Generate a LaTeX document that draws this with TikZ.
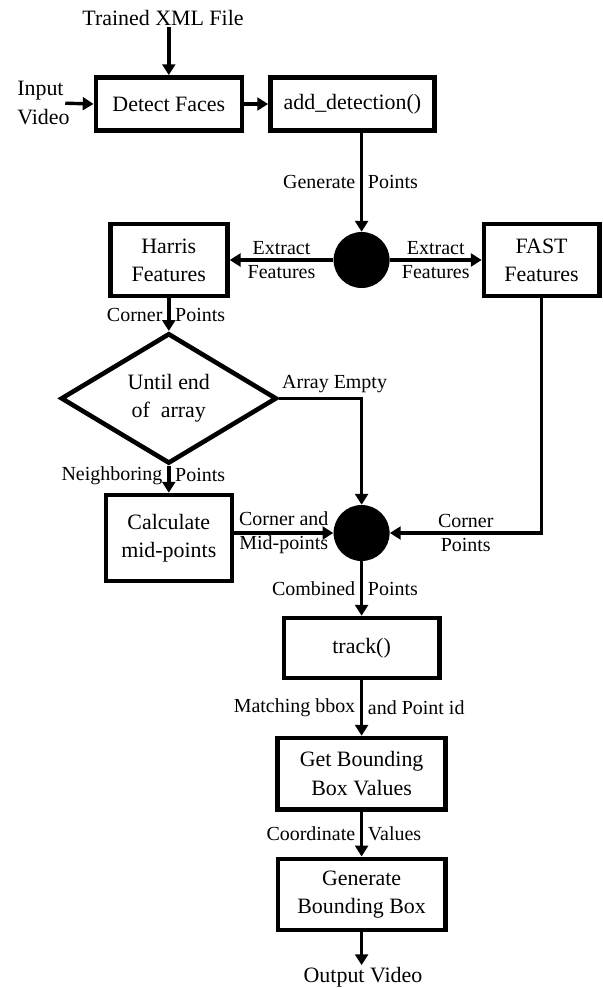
\documentclass[tikz,border=0pt]{standalone}
\usepackage{fontspec}
\setmainfont{Liberation Serif}
\usetikzlibrary{arrows.meta,calc,shapes.geometric}

\begin{document}
\begin{tikzpicture}[
    >={Triangle[length=0.27cm, width=0.32cm]},
    arr/.style={->, line width=0.085cm},
    box/.style={draw, line width=0.115cm, align=center, inner sep=2pt, font=\fontsize{15.6}{20}\selectfont},
    dbox/.style={box, diamond, inner sep=0pt, minimum width=5.4cm, minimum height=2.83cm},
    dot/.style={circle, fill=black, minimum size=1.4cm, inner sep=0pt},
    txt/.style={align=center, inner sep=1pt, font=\fontsize{15.6}{21}\selectfont},
    note/.style={align=center, font=\fontsize{14.2}{17}\selectfont}
]
\useasboundingbox (0,0) rectangle (15.075,-24.7);

% =========================================================
% DETECTION
% =========================================================
\node[txt] (trained) at (4.075,-0.45) {Trained XML File};
\node[txt, align=left, anchor=west] (invid) at (0.39,-2.58) {Input\\Video};

\node[box, minimum width=3.65cm, minimum height=1.33cm] (detect) at (4.22,-2.6) {Detect Faces};
\node[box, minimum width=4.1cm, minimum height=1.33cm] (adddet) at (8.81,-2.6) {add\_detection()};

\draw[arr] (trained.south -| detect) -- (detect.north);
\draw[arr] ([xshift=-0.15cm]invid.east) -- (detect.west);
\draw[arr] (detect.east) -- (adddet.west);

% ------------------- FEATURES -------------------
\node[dot] (split) at (9.04,-6.5) {};
\node[box, minimum width=2.93cm, minimum height=1.8cm] (harris) at (4.22,-6.5) {Harris\\Features};
\node[box, minimum width=2.88cm, minimum height=1.8cm] (fast) at (13.54,-6.5) {FAST\\Features};

\draw[arr] (adddet.south -| split) -- node[note, left] {Generate} node[note, right] {Points} (split.north);
\draw[arr] (split.west) -- node[note] {Extract\\Features} (harris.east);
\draw[arr] (split.east) -- node[note] {Extract\\Features} (fast.west);

% ------------------- MID-POINTS -------------------
\node[dbox] (until) at (4.22,-9.96) {Until end\\of\ \ array};
\node[box, minimum width=3.15cm, minimum height=2.15cm] (calc) at (4.22,-13.45) {Calculate\\mid-points};
\node[dot] (merge) at (9.04,-13.325) {};

\draw[arr] (harris.south) -- node[note, left] {Corner} node[note, right] {Points} (until.north);
\draw[arr] (until.east) -| node[note, pos=0, anchor=south west, inner sep=1pt, yshift=0.06cm] {Array Empty} (merge.north);
\draw[arr] (until.south) -- node[note, left, pos=0.35] {Neighboring} node[note, right, pos=0.35] {Points} (calc.north);
\draw[arr] (calc.east |- merge) -- node[note] {Corner and\\Mid-points} (merge.west);
\draw[arr] (fast.south) |- node[note, pos=0.75] {Corner\\Points} (merge.east);

% =========================================================
% TRACKING
% =========================================================
\node[box, minimum width=3.88cm, minimum height=1.5cm] (track) at (9.04,-16.2) {track()};
\node[box, minimum width=4.2cm, minimum height=1.78cm] (getbb) at (9.04,-19.34) {Get Bounding\\Box Values};
\node[box, minimum width=4.18cm, minimum height=1.78cm] (genbb) at (9.04,-22.36) {Generate\\Bounding Box};
\node[txt] (outvid) at (9.075,-24.42) {Output Video};

\draw[arr] (merge.south) -- node[note, left] {Combined} node[note, right] {Points} (track.north);
\draw[arr] (track.south) -- node[note, left] {Matching bbox} node[note, right] {and Point id} (getbb.north);
\draw[arr] (getbb.south) -- node[note, left] {Coordinate} node[note, right] {Values} (genbb.north);
\draw[arr] (genbb.south) -- (genbb.south |- outvid.north);

\end{tikzpicture}
\end{document}
